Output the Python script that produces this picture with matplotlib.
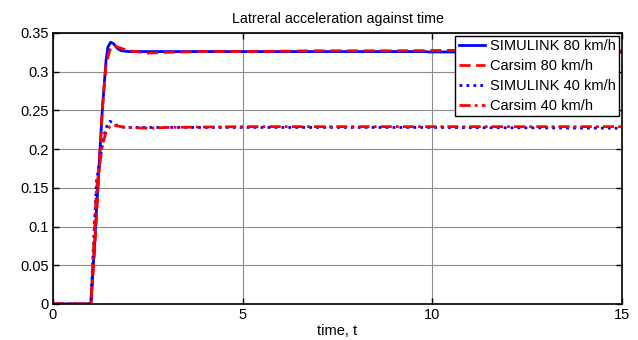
import numpy as np
import matplotlib.pyplot as plt

plt.rcParams['font.family'] = ['Liberation Sans', 'DejaVu Sans']

# time samples and lateral acceleration
t_sim80 = [0, 1.0, 1.1, 1.2, 1.3, 1.4, 1.45, 1.52, 1.6, 1.7, 1.8, 2.0, 2.5, 5, 9.8, 9.9, 15]
a_sim80 = [0, 0, 0.08, 0.165, 0.25, 0.315, 0.332, 0.338, 0.336, 0.330, 0.327, 0.326, 0.326, 0.326, 0.326, 0.3255, 0.3255]

t_car80 = [0, 1.0, 1.1, 1.2, 1.3, 1.4, 1.5, 1.6, 1.75, 2.0, 2.5, 3.0, 4.0, 5.0, 7.0, 9.0, 12.0, 15]
a_car80 = [0, 0, 0.07, 0.16, 0.25, 0.31, 0.328, 0.334, 0.331, 0.327, 0.324, 0.325, 0.326, 0.326, 0.327, 0.327, 0.328, 0.327]

t_sim40 = [0, 1.0, 1.08, 1.15, 1.22, 1.3, 1.38, 1.45, 1.5, 1.58, 1.7, 1.9, 2.5, 5, 10, 15]
a_sim40 = [0, 0, 0.09, 0.16, 0.18, 0.205, 0.225, 0.233, 0.236, 0.234, 0.230, 0.228, 0.228, 0.228, 0.228, 0.227]

t_car40 = [0, 1.0, 1.08, 1.15, 1.22, 1.3, 1.4, 1.5, 1.6, 1.7, 1.9, 2.5, 3.0, 5, 10, 15]
a_car40 = [0, 0, 0.08, 0.15, 0.175, 0.205, 0.222, 0.229, 0.231, 0.230, 0.228, 0.227, 0.228, 0.229, 0.229, 0.229]

x_ticks = [0, 5, 10, 15]
y_ticks = [0, 0.05, 0.1, 0.15, 0.2, 0.25, 0.3, 0.35]
y_ticklabels = ['0', '0.05', '0.1', '0.15', '0.2', '0.25', '0.3', '0.35']

fig = plt.figure(figsize=(6.38, 3.40), dpi=100)
ax = fig.add_axes([0.083, 0.106, 0.892, 0.797])

ax.plot(t_sim80, a_sim80, color='#0000ff', lw=2.0, ls='-', label='SIMULINK 80 km/h')
ax.plot(t_car80, a_car80, color='#ff0000', lw=2.0, ls=(0, (4, 2)), label='Carsim 80 km/h')
ax.plot(t_sim40, a_sim40, color='#0000ff', lw=2.0, ls=(0, (1, 1.5)), label='SIMULINK 40 km/h')
ax.plot(t_car40, a_car40, color='#ff0000', lw=2.0, ls=(0, (4, 1.5, 1, 1.5)), label='Carsim 40 km/h')

ax.set_xlim(0, 15)
ax.set_ylim(0, 0.35)
ax.set_xticks(x_ticks)
ax.set_yticks(y_ticks)
ax.set_yticklabels(y_ticklabels)
ax.tick_params(direction='in', top=True, right=True, labelsize=10.5, length=4, width=1, pad=3)
ax.grid(True, color='#8c8c8c', lw=0.8)
for s in ax.spines.values():
    s.set_linewidth(1.2)

ax.set_title('Latreral acceleration against time', fontsize=10.3, pad=7)
ax.set_xlabel('time, t', fontsize=10.5, labelpad=1)

leg = ax.legend(loc='upper right', bbox_to_anchor=(0.995, 0.99), fontsize=10.5,
                fancybox=False, framealpha=1, edgecolor='black', borderpad=0.25,
                labelspacing=0.4, handlelength=1.8, handletextpad=0.3, borderaxespad=0)
leg.get_frame().set_linewidth(1.0)

fig.savefig('out.png', dpi=100)
